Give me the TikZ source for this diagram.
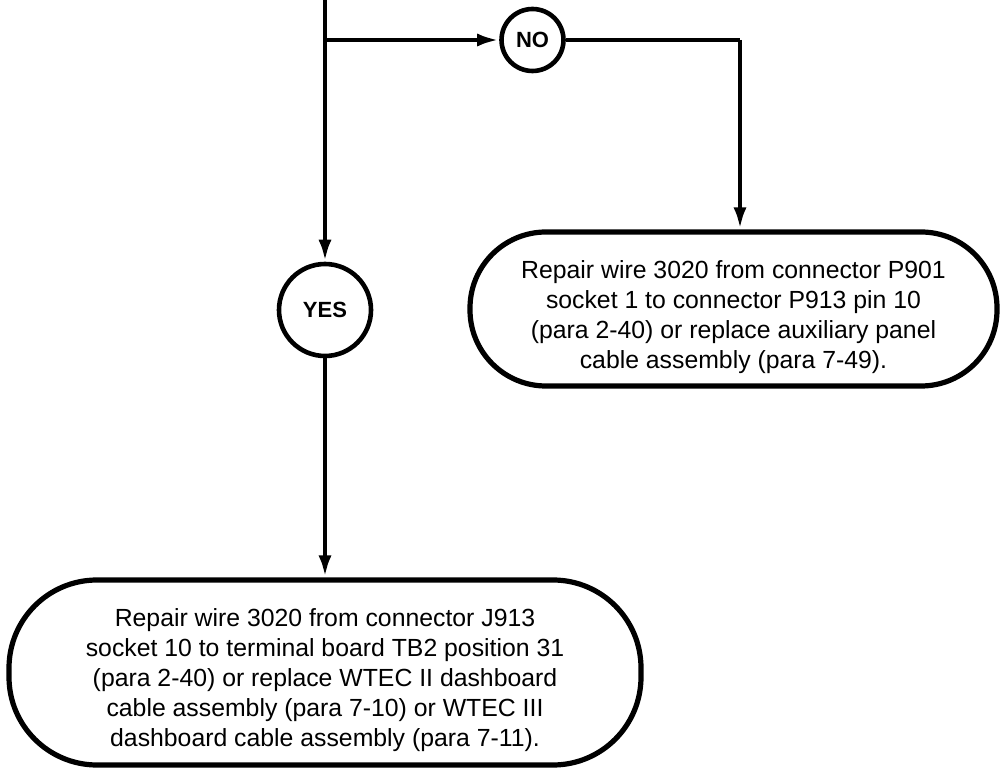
\documentclass[tikz,border=0pt]{standalone}
\usepackage{fontspec}
\setmainfont{Liberation Sans}
\usetikzlibrary{arrows.meta}

\begin{document}
\begin{tikzpicture}[x=0.5pt,y=-0.5pt,line width=2.3pt,
        flow/.style={-{Latex[length=11pt,width=6.5pt]}},
        answer/.style={draw,circle,inner sep=0pt,font=\fontsize{11}{13}\selectfont\bfseries},
        action/.style={draw,rounded corners=#1,align=center,inner sep=0pt,line width=2.6pt,
            font=\fontsize{12.4}{15}\selectfont}]
        \useasboundingbox (0,0) rectangle (1001,769);
        \coordinate (top) at (325,0); \coordinate (split) at (325,40);
        \coordinate (turn) at (740,40);
        \node[answer,minimum size=31pt] (no) at (532.5,40) {NO};
        \node[answer,minimum size=46pt] (yes) at (325,310) {YES};
        \node[action=38pt,minimum width=263.5pt,minimum height=77pt] (fixaux) at (733.5,309)
            {\rule{0pt}{17pt}Repair wire 3020 from connector P901\\socket 1 to connector P913 pin 10\\
             (para 2-40) or replace auxiliary panel\\cable assembly (para 7-49).};
        \node[action=44pt,minimum width=316pt,minimum height=92.5pt] (fixdash) at (325,672.5)
            {\rule{0pt}{17pt}Repair wire 3020 from connector J913\\socket 10 to terminal board TB2 position 31\\
             (para 2-40) or replace WTEC II dashboard\\cable assembly (para 7-10) or WTEC III\\
             dashboard cable assembly (para 7-11).};
        \draw[flow] (top) -- (yes);
        \draw[flow] (split) -- (no);
        \draw (no) -- (turn);
        \draw[flow] (turn) -- (turn |- fixaux.north);
        \draw[flow] (yes) -- (fixdash);
    \end{tikzpicture}
\end{document}
